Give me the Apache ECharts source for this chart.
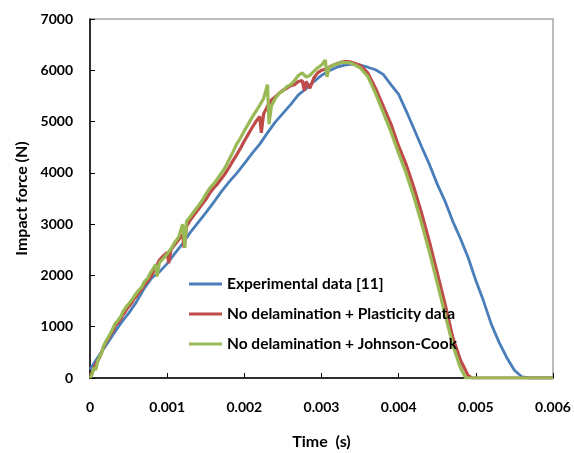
<!DOCTYPE html>
<html>
<head>
<meta charset="utf-8">
<script src="https://cdn.jsdelivr.net/npm/echarts@6/dist/echarts.min.js"></script>
<style>html,body{margin:0;padding:0;background:#fff}#c{width:574px;height:453px}</style>
</head>
<body>
<div id="c"></div>
<script>
var seriesNames = ["Experimental data [11]", "No delamination + Plasticity data", "No delamination + Johnson-Cook"];
var xTicks = [0, 0.001, 0.002, 0.003, 0.004, 0.005, 0.006];
var yTicks = [0, 1000, 2000, 3000, 4000, 5000, 6000, 7000];

// Experimental data [11]: [time (s), force (N)]
var experimental = [
[0,170],[0.0001,400],[0.0002,620],[0.0003,850],[0.0004,1070],[0.0005,1260],[0.0006,1480],[0.0007,1740],
[0.0008,1950],[0.0009,2070],[0.001,2230],[0.0011,2430],[0.0012,2620],[0.0013,2840],[0.0014,3030],[0.0015,3220],
[0.0016,3420],[0.0017,3630],[0.0018,3820],[0.0019,3990],[0.002,4180],[0.0021,4380],[0.0022,4560],[0.0023,4780],
[0.0024,4990],[0.0025,5160],[0.0026,5330],[0.0027,5520],[0.0028,5640],[0.0029,5780],[0.003,5900],[0.0031,5990],
[0.0032,6060],[0.0033,6100],[0.0034,6120],[0.0035,6100],[0.0036,6060],[0.0037,6010],[0.0038,5920],[0.0039,5720],
[0.004,5530],[0.0041,5200],[0.0042,4850],[0.0043,4500],[0.0044,4160],[0.0045,3780],[0.0046,3450],[0.0047,3060],
[0.0048,2720],[0.0049,2350],[0.005,1900],[0.0051,1500],[0.0052,1050],[0.0053,700],[0.0054,400],[0.0055,150],
[0.0056,20],[0.0057,0],[0.006,0]
];

// No delamination + Plasticity data
var plasticity = [
[0,50],[0.000025,90],[0.00005,200],[0.000075,190],[0.0001,340],[0.000125,400],[0.00015,500],[0.000175,600],
[0.0002,680],[0.000225,690],[0.00025,800],[0.000275,870],[0.0003,920],[0.000325,1020],[0.00035,1060],[0.000375,1090],
[0.0004,1150],[0.000425,1230],[0.00045,1270],[0.000475,1340],[0.0005,1390],[0.000525,1430],[0.00055,1490],[0.000575,1550],
[0.0006,1590],[0.000625,1650],[0.00065,1690],[0.000675,1740],[0.0007,1810],[0.00075,1890],
[0.0008,2010],[0.00085,2150],[0.0009,2300],[0.00095,2380],[0.001,2450],[0.00102,2240],[0.00105,2500],[0.0011,2600],
[0.00115,2700],[0.0012,2800],[0.00122,2540],[0.00125,2950],[0.0013,3080],[0.00135,3180],[0.0014,3280],[0.00145,3380],
[0.0015,3480],[0.00155,3600],[0.0016,3700],[0.00165,3780],[0.0017,3880],[0.00175,3980],[0.0018,4100],[0.00185,4230],
[0.0019,4350],[0.00195,4480],[0.002,4620],[0.00205,4750],[0.0021,4880],[0.00215,5000],[0.0022,5100],[0.00222,4780],
[0.00225,5150],[0.0023,5300],[0.00235,5420],[0.0024,5480],[0.00245,5550],[0.0025,5610],[0.00255,5650],[0.0026,5700],
[0.00265,5720],[0.0027,5780],[0.00275,5800],[0.00278,5600],[0.0028,5780],[0.00285,5650],[0.0029,5850],[0.00295,5950],
[0.003,6000],[0.00305,6020],[0.0031,6060],[0.00315,6100],[0.0032,6130],[0.00325,6150],[0.0033,6170],[0.00335,6170],
[0.0034,6150],[0.0035,6100],[0.0036,5950],[0.0037,5650],[0.0038,5300],[0.0039,4950],[0.004,4520],[0.0041,4150],
[0.0042,3700],[0.0043,3200],[0.0044,2650],[0.0045,2050],[0.0046,1450],[0.0047,800],[0.0048,350],[0.0049,50],
[0.00495,0],[0.006,0]
];

// No delamination + Johnson-Cook
var johnsonCook = [
[0,0],[0.000025,60],[0.00005,200],[0.000075,160],[0.0001,330],[0.000125,420],[0.00015,480],[0.000175,620],
[0.0002,700],[0.000225,680],[0.00025,830],[0.000275,900],[0.0003,930],[0.000325,1060],[0.00035,1100],[0.000375,1120],
[0.0004,1200],[0.000425,1290],[0.00045,1310],[0.000475,1400],[0.0005,1440],[0.000525,1470],[0.00055,1540],[0.000575,1600],
[0.0006,1620],[0.000625,1700],[0.00065,1740],[0.000675,1780],[0.0007,1870],[0.000725,1890],[0.00075,1950],[0.000775,2030],
[0.0008,2060],[0.000825,2150],[0.00085,2210],[0.00087,1980],[0.0009,2250],[0.00095,2330],[0.001,2420],[0.00105,2520],[0.0011,2650],
[0.00115,2750],[0.0012,3000],[0.00123,2540],[0.00125,3050],[0.0013,3150],[0.00135,3250],[0.0014,3350],[0.00145,3450],
[0.0015,3580],[0.00155,3700],[0.0016,3780],[0.00165,3880],[0.0017,3990],[0.00175,4100],[0.0018,4250],[0.00185,4400],
[0.0019,4560],[0.00195,4680],[0.002,4820],[0.00205,4950],[0.0021,5080],[0.00215,5200],[0.0022,5320],[0.00225,5450],
[0.0023,5720],[0.00232,4950],[0.00235,5300],[0.0024,5450],[0.00245,5550],[0.0025,5600],[0.00255,5680],[0.0026,5720],
[0.00265,5800],[0.0027,5900],[0.00275,5950],[0.0028,5870],[0.00285,5900],[0.0029,5980],[0.00295,6050],[0.003,6100],
[0.00305,6200],[0.00307,5870],[0.0031,6050],[0.00315,6100],[0.0032,6120],[0.00325,6160],[0.0033,6150],[0.00335,6150],
[0.0034,6130],[0.0035,6050],[0.0036,5880],[0.0037,5550],[0.0038,5180],[0.0039,4800],[0.004,4380],[0.0041,3980],
[0.0042,3520],[0.0043,3000],[0.0044,2450],[0.0045,1850],[0.0046,1250],[0.0047,650],[0.0048,200],[0.00487,0],
[0.006,0]
];

var FONT = 'Lato';
var chart = echarts.init(document.getElementById('c'), null, {renderer: 'canvas'});
var axisLabelStyle = {color: '#000', fontFamily: FONT, fontWeight: 'bold', fontSize: 14};
chart.setOption({
  animation: false,
  backgroundColor: '#fff',
  grid: {left: 90, right: 21, top: 19, bottom: 75, outerBoundsMode: 'none', containLabel: false,
         show: true, borderColor: '#a6a6a6', borderWidth: 1.5, backgroundColor: 'transparent'},
  legend: {
    orient: 'vertical', left: 184, top: 270, itemWidth: 33, itemHeight: 3, itemGap: 12, icon: 'rect',
    textStyle: {color: '#000', fontFamily: FONT, fontWeight: 'bold', fontSize: 15.5, lineHeight: 18},
    data: seriesNames
  },
  xAxis: {
    type: 'value', min: xTicks[0], max: xTicks[xTicks.length - 1], interval: xTicks[1] - xTicks[0],
    name: 'Time  (s)', nameLocation: 'middle', nameGap: 56,
    nameTextStyle: {color: '#000', fontFamily: FONT, fontWeight: 'bold', fontSize: 16},
    axisLine: {show: true, onZero: false, lineStyle: {color: '#000', width: 1.5}},
    axisTick: {show: true, inside: true, length: 5, lineStyle: {color: '#000', width: 1}},
    splitLine: {show: false},
    axisLabel: Object.assign({margin: 22, formatter: function (v) { return v === 0 ? '0' : v.toFixed(3); }}, axisLabelStyle)
  },
  yAxis: {
    type: 'value', min: yTicks[0], max: yTicks[yTicks.length - 1], interval: yTicks[1] - yTicks[0],
    name: 'Impact force (N)', nameLocation: 'middle', nameGap: 58, nameRotate: 90,
    nameTextStyle: {color: '#000', fontFamily: FONT, fontWeight: 'bold', fontSize: 16},
    axisLine: {show: true, lineStyle: {color: '#000', width: 1.5}},
    axisTick: {show: true, inside: true, length: 5, lineStyle: {color: '#000', width: 1}},
    splitLine: {show: false},
    axisLabel: Object.assign({margin: 17, formatter: function (v) { return String(v); }}, axisLabelStyle)
  },
  series: [
    {name: seriesNames[0], type: 'line', data: experimental, symbol: 'none', smooth: false,
     lineStyle: {color: '#4a7ebb', width: 2.8}, itemStyle: {color: '#4a7ebb'}},
    {name: seriesNames[1], type: 'line', data: plasticity, symbol: 'none',
     lineStyle: {color: '#be4b48', width: 3.2}, itemStyle: {color: '#be4b48'}},
    {name: seriesNames[2], type: 'line', data: johnsonCook, symbol: 'none',
     lineStyle: {color: '#98b954', width: 3.2}, itemStyle: {color: '#98b954'}}
  ]
});
</script>
</body>
</html>
